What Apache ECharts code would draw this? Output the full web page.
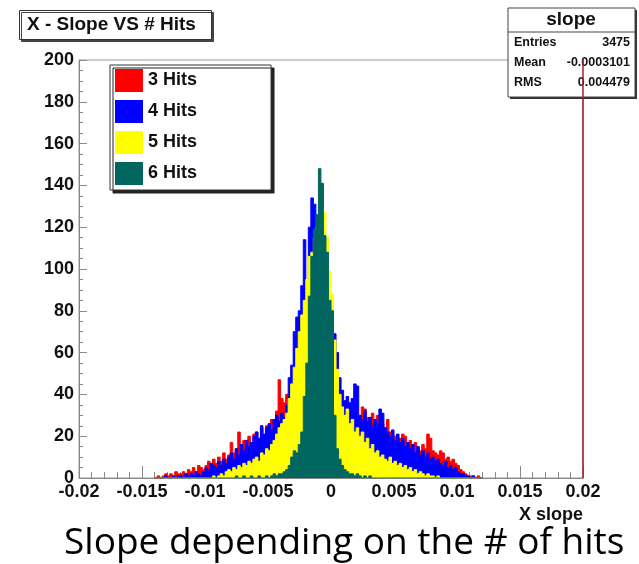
<!DOCTYPE html>
<html>
<head>
<meta charset="utf-8">
<script src="https://cdn.jsdelivr.net/npm/echarts@6/dist/echarts.min.js"></script>
<style>
  html, body { margin: 0; padding: 0; background: #fff; }
  #chart { width: 639px; height: 564px; }
</style>
</head>
<body>
<div id="chart"></div>
<script>
// Histogram binning: 130 bins of width 0.0002 starting at -0.014
const binStart = -0.014;
const binWidth = 0.0002;

// Bin contents per track category
const hits3 = [
  0,1,0,1,2,1,2,1,3,2,
  2,3,2,4,3,5,3,6,5,4,
  6,8,5,9,7,10,8,12,9,11,
  17,12,14,22,15,18,13,20,16,21,
  22,18,24,20,25,23,28,26,32,47,
  38,36,40,34,42,38,44,40,45,42,
  48,50,46,52,55,50,53,48,50,46,
  44,42,45,40,36,35,33,34,32,37,
  30,28,34,33,29,26,31,27,30,25,
  26,24,28,22,18,20,17,19,21,20,
  16,18,14,17,15,13,16,14,21,19,
  13,12,11,13,12,9,10,8,9,7,
  6,4,3,2,1,1,1,0,1,0
];
const hits4 = [
  0,0,0,0,1,0,0,1,0,1,
  1,0,2,1,2,1,3,2,1,3,
  5,4,7,6,5,8,6,9,7,10,
  12,9,14,11,16,13,18,15,17,20,
  22,19,25,21,24,26,23,28,30,27,
  31,29,35,48,54,70,77,80,92,114,
  88,120,134,131,110,105,95,90,82,76,
  72,69,60,48,42,37,39,36,38,45,
  44,30,28,32,27,29,25,28,26,33,
  31,24,22,20,23,18,21,17,19,15,
  17,14,16,12,15,11,13,10,12,9,
  10,8,9,7,6,8,5,6,4,5,
  3,2,2,1,1,0,1,0,0,0
];
const hits5 = [
  0,0,0,0,0,0,0,0,0,0,
  0,0,0,0,0,0,0,0,0,0,
  0,0,0,1,0,1,2,1,3,4,
  3,5,4,6,5,7,6,8,7,9,
  10,8,12,11,14,13,16,18,21,24,
  26,28,31,38,45,53,62,70,78,85,
  95,106,108,115,120,118,124,127,115,99,
  88,66,52,40,34,30,33,26,28,22,
  24,20,22,17,19,14,16,12,13,10,
  11,9,8,10,7,8,6,7,5,6,
  4,5,3,4,2,3,2,1,2,1,
  1,0,1,0,0,0,0,0,0,0,
  0,0,0,0,0,0,0,0,0,0
];
const hits6 = [
  0,0,0,0,0,0,0,0,0,0,
  0,0,0,0,0,0,0,0,0,0,
  0,0,0,0,0,0,0,0,0,0,
  0,0,1,0,0,1,0,0,1,0,
  0,1,0,0,1,0,1,2,1,2,
  2,3,4,6,10,13,12,16,22,39,
  55,87,106,119,126,148,141,116,108,85,
  80,30,14,9,6,4,3,2,2,1,
  2,1,0,1,0,1,0,0,0,0,
  0,0,0,0,0,0,0,0,0,0,
  0,0,0,0,0,0,0,0,0,0,
  0,0,0,0,0,0,0,0,0,0,
  0,0,0,0,0,0,0,0,0,0
];

const seriesNames = ['3 Hits', '4 Hits', '5 Hits', '6 Hits'];
const seriesColors = ['#ff0000', '#0000ff', '#ffff00', '#00665f'];

// Stat box contents
const statTitle = 'slope';
const statRows = [['Entries', '3475'], ['Mean', '-0.0003101'], ['RMS', '0.004479']];

// Turn bin contents into step-line points (left edges + closing right edge)
function toSteps(counts) {
  const pts = counts.map((c, i) => [binStart + i * binWidth, c]);
  pts.push([binStart + counts.length * binWidth, counts[counts.length - 1]]);
  return pts;
}

const FONT = "'Liberation Sans', Arial, sans-serif";
const chart = echarts.init(document.getElementById('chart'), null, { renderer: 'canvas' });

const allCounts = [hits3, hits4, hits5, hits6];
const series = allCounts.map((counts, idx) => ({
  name: seriesNames[idx],
  type: 'line',
  step: 'end',
  symbol: 'none',
  data: toSteps(counts),
  itemStyle: { color: seriesColors[idx] },
  lineStyle: { color: seriesColors[idx], width: 1 },
  areaStyle: { color: seriesColors[idx], opacity: 1 },
  emphasis: { disabled: true },
  z: 2 + idx
}));

// Right edge of the frame, drawn in the histogram line colour
series[0].markLine = {
  silent: true,
  symbol: 'none',
  label: { show: false },
  lineStyle: { color: '#a52020', width: 1.5, type: 'solid' },
  data: [{ xAxis: 0.02 }]
};

const statStyle = { font: 'bold 12.5px ' + FONT, fill: '#111' };
const statChildren = [
  { type: 'rect', shape: { x: 2, y: 2, width: 127, height: 89 }, style: { fill: '#333' } },
  { type: 'rect', shape: { x: 0, y: 0, width: 127, height: 89 }, style: { fill: '#fff', stroke: '#444', lineWidth: 1 } },
  { type: 'line', shape: { x1: 0, y1: 24, x2: 127, y2: 24 }, style: { stroke: '#444', lineWidth: 1 } },
  { type: 'text', x: 63, y: 12, style: { text: statTitle, font: 'bold 19px ' + FONT, fill: '#111', align: 'center', verticalAlign: 'middle' } }
];
statRows.forEach((row, i) => {
  const y = 35 + i * 20;
  statChildren.push({ type: 'text', x: 6, y: y, style: Object.assign({ text: row[0], align: 'left', verticalAlign: 'middle' }, statStyle) });
  statChildren.push({ type: 'text', x: 122, y: y, style: Object.assign({ text: row[1], align: 'right', verticalAlign: 'middle' }, statStyle) });
});

chart.setOption({
  animation: false,
  backgroundColor: '#fff',
  title: [
    {
      text: 'X - Slope VS # Hits',
      left: 19, top: 10,
      padding: [5, 16, 6, 8],
      borderColor: '#333', borderWidth: 1,
      backgroundColor: '#fff',
      shadowColor: '#444', shadowOffsetX: 2, shadowOffsetY: 2, shadowBlur: 0,
      textStyle: { fontFamily: FONT, fontWeight: 'bold', fontSize: 19, color: '#111' }
    },
    {
      text: 'Slope depending on the # of hits',
      left: 59, top: 520,
      textStyle: { fontFamily: "'Open Sans', sans-serif", fontWeight: 'normal', fontSize: 37, color: '#000' }
    }
  ],
  legend: {
    data: seriesNames,
    orient: 'vertical',
    left: 110, top: 65,
    icon: 'rect',
    itemWidth: 28, itemHeight: 23, itemGap: 8,
    padding: [4, 74, 5, 5],
    selectedMode: false,
    backgroundColor: '#fff',
    borderColor: '#333', borderWidth: 1,
    shadowColor: '#222', shadowOffsetX: 3, shadowOffsetY: 3, shadowBlur: 0,
    textStyle: { fontFamily: FONT, fontWeight: 'bold', fontSize: 18, color: '#111' }
  },
  grid: {
    left: 79, right: 56, top: 60, bottom: 86,
    outerBoundsMode: 'none',
    containLabel: false,
    show: true, borderColor: '#999', borderWidth: 1, backgroundColor: 'transparent'
  },
  xAxis: {
    type: 'value',
    min: -0.02, max: 0.02, interval: 0.005,
    name: 'X slope',
    // centred on the axis, pushed to the right end by left padding
    nameLocation: 'middle',
    nameGap: 17,
    nameTextStyle: {
      fontFamily: FONT, fontWeight: 'bold', fontSize: 18, color: '#111',
      align: 'center', verticalAlign: 'top', padding: [0, 0, 0, 440]
    },
    axisLine: { show: true, onZero: false, lineStyle: { color: '#888', width: 1 } },
    axisTick: { show: true, inside: true, length: 12, lineStyle: { color: '#888' } },
    minorTick: { show: true, splitNumber: 5, length: 6, lineStyle: { color: '#888' } },
    splitLine: { show: false },
    minorSplitLine: { show: false },
    axisLabel: {
      margin: 5,
      fontFamily: FONT, fontWeight: 'bold', fontSize: 18, color: '#111',
      formatter: v => String(+v.toFixed(3))
    }
  },
  yAxis: {
    type: 'value',
    min: 0, max: 200, interval: 20,
    axisLine: { show: true, onZero: false, lineStyle: { color: '#888', width: 1 } },
    axisTick: { show: true, inside: true, length: 8, lineStyle: { color: '#888' } },
    minorTick: { show: true, splitNumber: 4, length: 4, lineStyle: { color: '#888' } },
    splitLine: { show: false },
    minorSplitLine: { show: false },
    axisLabel: {
      margin: 5,
      fontFamily: FONT, fontWeight: 'bold', fontSize: 18, color: '#111'
    }
  },
  graphic: [
    { type: 'group', x: 508, y: 8, z: 100, children: statChildren }
  ],
  series: series
});
</script>
</body>
</html>
